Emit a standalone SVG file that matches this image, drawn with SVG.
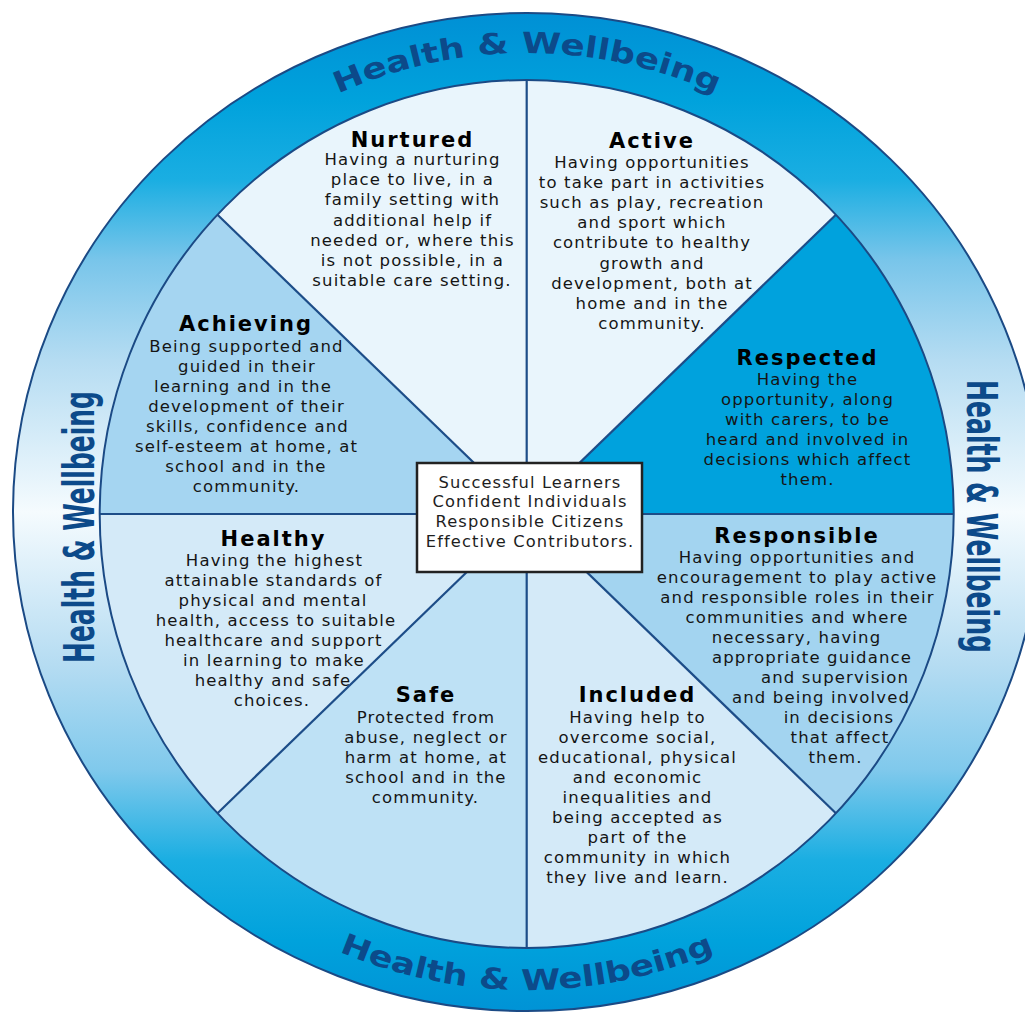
<svg xmlns="http://www.w3.org/2000/svg" width="1025" height="1012" viewBox="0 0 1025 1012">
<style>
  .t { font-family: "DejaVu Sans", Verdana, sans-serif; font-weight: bold; font-size: 21px; letter-spacing: 2px; fill: #000; text-anchor: middle; }
  .b { font-family: "DejaVu Sans", Verdana, sans-serif; font-size: 16.5px; letter-spacing: 1.15px; fill: #151515; text-anchor: middle; }
  .c { font-family: "DejaVu Sans", Verdana, sans-serif; font-size: 16.3px; letter-spacing: 1.1px; fill: #1e1e1e; text-anchor: middle; }
  .hw { font-family: "DejaVu Sans", Verdana, sans-serif; font-weight: bold; fill: #0c4a8a; }
  .div { stroke: #1d4d88; stroke-width: 2.2; fill: none; }
  .edge { stroke: #1b4a85; stroke-width: 2; fill: none; }
</style>
<defs>
  <linearGradient id="ringGrad" gradientUnits="userSpaceOnUse" x1="0" y1="13" x2="0" y2="1011">
    <stop offset="0" stop-color="#0090d5"/>
    <stop offset="0.087" stop-color="#00a2dc"/>
    <stop offset="0.167" stop-color="#1aaee2"/>
    <stop offset="0.247" stop-color="#78c5ea"/>
    <stop offset="0.348" stop-color="#b5dcf2"/>
    <stop offset="0.5" stop-color="#f5fbfe"/>
    <stop offset="0.653" stop-color="#b5dcf2"/>
    <stop offset="0.758" stop-color="#80c9ec"/>
    <stop offset="0.849" stop-color="#1aaee2"/>
    <stop offset="0.929" stop-color="#00a2dc"/>
    <stop offset="1" stop-color="#0093d6"/>
  </linearGradient>
  <path id="arcTop" d="M 129.5 282.5 A 459 459 0 0 1 924.5 282.5"/>
  <path id="arcBot" d="M 113 751 A 478 478 0 0 0 941 751"/>
</defs>
<rect x="0" y="0" width="1025" height="1012" fill="#ffffff"/>

<g id="ring">
  <ellipse cx="527" cy="512" rx="514" ry="499" class="edge" style="fill:url(#ringGrad)"/>
  <text class="hw" font-size="29"><textPath href="#arcTop" startOffset="50%" text-anchor="middle" textLength="389" lengthAdjust="spacingAndGlyphs">Health &amp; Wellbeing</textPath></text>
  <text class="hw" font-size="29"><textPath href="#arcBot" startOffset="50%" text-anchor="middle" textLength="386" lengthAdjust="spacingAndGlyphs">Health &amp; Wellbeing</textPath></text>
  <text class="hw" font-size="42" text-anchor="middle" transform="translate(94,527) rotate(-90)" textLength="272" lengthAdjust="spacingAndGlyphs">Health &amp; Wellbeing</text>
  <text class="hw" font-size="42" text-anchor="middle" transform="translate(967,516.5) rotate(90)" textLength="273" lengthAdjust="spacingAndGlyphs">Health &amp; Wellbeing</text>
</g>

<g id="nurtured">
  <path d="M 526.7 514 L 217.5 214.8 A 427 434 0 0 1 526.7 80 Z" fill="#e9f5fc"/>
  <text class="t" x="412.5" y="147">Nurtured</text>
  <text class="b" x="412.5" y="165">Having a nurturing</text>
  <text class="b" x="412.5" y="185.2">place to live, in a</text>
  <text class="b" x="412.5" y="205.4">family setting with</text>
  <text class="b" x="412.5" y="225.6">additional help if</text>
  <text class="b" x="412.5" y="245.8">needed or, where this</text>
  <text class="b" x="412.5" y="266">is not possible, in a</text>
  <text class="b" x="412" y="286.2">suitable care setting.</text>
</g>

<g id="active">
  <path d="M 526.7 514 L 526.7 80 A 427 434 0 0 1 835.9 214.8 Z" fill="#e9f5fc"/>
  <text class="t" x="652" y="148">Active</text>
  <text class="b" x="652" y="168">Having opportunities</text>
  <text class="b" x="652" y="188.1">to take part in activities</text>
  <text class="b" x="652" y="208.2">such as play, recreation</text>
  <text class="b" x="652" y="228.3">and sport which</text>
  <text class="b" x="652" y="248.4">contribute to healthy</text>
  <text class="b" x="652" y="268.5">growth and</text>
  <text class="b" x="652" y="288.6">development, both at</text>
  <text class="b" x="652" y="308.7">home and in the</text>
  <text class="b" x="652" y="328.8">community.</text>
</g>

<g id="respected">
  <path d="M 526.7 514 L 835.9 214.8 A 427 434 0 0 1 953.7 514 Z" fill="#00a2dd"/>
  <text class="t" x="807.5" y="364.5">Respected</text>
  <text class="b" x="807.5" y="384.5">Having the</text>
  <text class="b" x="807.5" y="404.6">opportunity, along</text>
  <text class="b" x="807.5" y="424.7">with carers, to be</text>
  <text class="b" x="807.5" y="444.8">heard and involved in</text>
  <text class="b" x="807.5" y="464.9">decisions which affect</text>
  <text class="b" x="807.5" y="485">them.</text>
</g>

<g id="responsible">
  <path d="M 526.7 514 L 953.7 514 A 427 434 0 0 1 835.9 813.2 Z" fill="#a3d4f0"/>
  <text class="t" x="797" y="542.7">Responsible</text>
  <text class="b" x="797" y="562.7">Having opportunities and</text>
  <text class="b" x="797" y="582.7">encouragement to play active</text>
  <text class="b" x="797.5" y="602.7">and responsible roles in their</text>
  <text class="b" x="797" y="622.7">communities and where</text>
  <text class="b" x="796.5" y="642.7">necessary, having</text>
  <text class="b" x="812" y="662.7">appropriate guidance</text>
  <text class="b" x="835" y="682.7">and supervision</text>
  <text class="b" x="821" y="702.7">and being involved</text>
  <text class="b" x="839" y="722.7">in decisions</text>
  <text class="b" x="840" y="742.7">that affect</text>
  <text class="b" x="835.5" y="762.7">them.</text>
</g>

<g id="included">
  <path d="M 526.7 514 L 835.9 813.2 A 427 434 0 0 1 526.7 948 Z" fill="#d4eaf8"/>
  <text class="t" x="637.5" y="702">Included</text>
  <text class="b" x="637.5" y="722.7">Having help to</text>
  <text class="b" x="637.5" y="742.7">overcome social,</text>
  <text class="b" x="637.5" y="762.7">educational, physical</text>
  <text class="b" x="637.5" y="782.7">and economic</text>
  <text class="b" x="637.5" y="802.7">inequalities and</text>
  <text class="b" x="637.5" y="822.7">being accepted as</text>
  <text class="b" x="637.5" y="842.7">part of the</text>
  <text class="b" x="637.5" y="862.7">community in which</text>
  <text class="b" x="637.5" y="882.7">they live and learn.</text>
</g>

<g id="safe">
  <path d="M 526.7 514 L 526.7 948 A 427 434 0 0 1 217.5 813.2 Z" fill="#bee1f5"/>
  <text class="t" x="426" y="702">Safe</text>
  <text class="b" x="426" y="722.7">Protected from</text>
  <text class="b" x="426" y="742.7">abuse, neglect or</text>
  <text class="b" x="426" y="762.7">harm at home, at</text>
  <text class="b" x="426" y="782.7">school and in the</text>
  <text class="b" x="425.5" y="802.7">community.</text>
</g>

<g id="healthy">
  <path d="M 526.7 514 L 217.5 813.2 A 427 434 0 0 1 99.7 514 Z" fill="#d4eaf8"/>
  <text class="t" x="273.5" y="546">Healthy</text>
  <text class="b" x="274.5" y="566">Having the highest</text>
  <text class="b" x="273.5" y="586">attainable standards of</text>
  <text class="b" x="273" y="606">physical and mental</text>
  <text class="b" x="276" y="626">health, access to suitable</text>
  <text class="b" x="273.5" y="646">healthcare and support</text>
  <text class="b" x="274" y="666">in learning to make</text>
  <text class="b" x="273" y="686">healthy and safe</text>
  <text class="b" x="272" y="706">choices.</text>
</g>

<g id="achieving">
  <path d="M 526.7 514 L 99.7 514 A 427 434 0 0 1 217.5 214.8 Z" fill="#a5d5f1"/>
  <text class="t" x="246" y="331">Achieving</text>
  <text class="b" x="246.5" y="352">Being supported and</text>
  <text class="b" x="247" y="372">guided in their</text>
  <text class="b" x="243" y="392">learning and in the</text>
  <text class="b" x="246.5" y="412">development of their</text>
  <text class="b" x="247.5" y="432">skills, confidence and</text>
  <text class="b" x="246.5" y="452">self-esteem at home, at</text>
  <text class="b" x="246" y="472">school and in the</text>
  <text class="b" x="246.5" y="492">community.</text>
</g>

<g id="connectors">
  <line class="div" x1="526.7" y1="80" x2="526.7" y2="948"/>
  <line class="div" x1="99.7" y1="514" x2="953.7" y2="514"/>
  <line class="div" x1="217.5" y1="214.8" x2="835.9" y2="813.2"/>
  <line class="div" x1="835.9" y1="214.8" x2="217.5" y2="813.2"/>
  <ellipse class="edge" cx="526.7" cy="514" rx="427" ry="434"/>
</g>

<g id="center">
  <rect x="417" y="463" width="225" height="109" fill="#ffffff" stroke="#222222" stroke-width="2.5"/>
  <text class="c" x="530" y="487.7">Successful Learners</text>
  <text class="c" x="530" y="507.3">Confident Individuals</text>
  <text class="c" x="530" y="527.3">Responsible Citizens</text>
  <text class="c" x="530" y="547.3">Effective Contributors.</text>
</g>
</svg>
